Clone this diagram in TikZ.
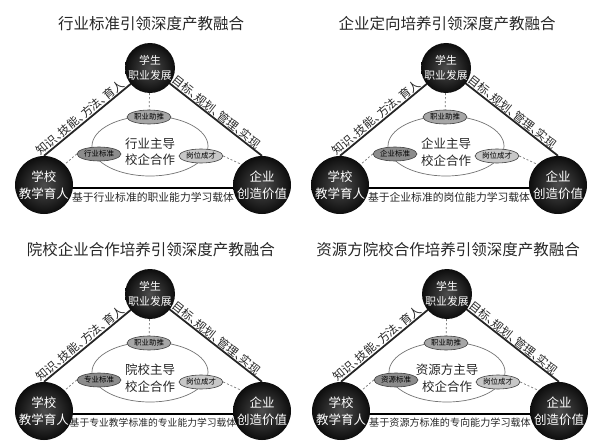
\documentclass[tikz,border=0pt]{standalone}
\usepackage{fontspec}
\setmainfont{Noto Sans CJK SC}
\usetikzlibrary{shapes.geometric,backgrounds}
\newcommand\dunh{\makebox[0.5em][l]{、}}
\tikzset{
 titlef/.style={font=\fontsize{15.5}{18}\selectfont, text=black!85, inner sep=0pt},
 topc/.style={circle, inner color=black!70, outer color=black!95, text=white, minimum size=50pt, inner sep=0pt, align=center, font=\fontsize{10.8}{15}\selectfont},
 botc/.style={circle, inner color=black!70, outer color=black!95, text=white, minimum size=58pt, inner sep=0pt, align=center, font=\fontsize{12.5}{17}\selectfont},
 bigell/.style={ellipse, draw=black!55, line width=0.7pt, minimum width=116pt, minimum height=60pt, inner sep=0pt},
 centert/.style={align=center, font=\fontsize{12.5}{16.5}\selectfont, inner sep=0pt, text=black!85},
 smell/.style={ellipse, draw=black!75, line width=0.6pt, minimum width=44pt, minimum height=14pt, inner sep=0pt, font=\fontsize{7.5}{9}\selectfont},
 edgeline/.style={draw=black!85, line width=1.8pt},
 bline/.style={draw=black, line width=1.8pt},
 dashl/.style={draw=black!55, line width=0.7pt, dash pattern=on 2pt off 2pt},
 elabel/.style={sloped, above, inner sep=1pt, font=\fontsize{11.5}{13}\selectfont, text=black!85},
}
% #1 prefix, #2 x shift, #3 y shift, #4 title, #5 centre first line, #6 left small ellipse, #7 bottom text, #8 bottom font size
\newcommand\drawpanel[8]{%
\begin{scope}[shift={(#2,#3)}]
 \node[titlef] (#1title) at (151,24) {#4};
 \node[topc] (#1T) at (150,68) {学生\\职业发展};
 \node[botc] (#1L) at (44,185) {学校\\教学育人};
 \node[botc] (#1R) at (262,185) {企业\\创造价值};
 \node[bigell] (#1E) at (150,146) {};
 \node[centert] (#1C) at (150,152) {#5\\校企合作};
 \node[smell, fill=black!35] (#1A) at (149,117) {职业助推};
 \node[smell, fill=black!45] (#1B) at (99,154) {#6};
 \node[smell, fill=black!22] (#1D) at (201,156) {岗位成才};
 \begin{scope}[on background layer]
  \draw[edgeline] (#1L.north) -- (#1T.center);
  \draw[edgeline] (#1T.center) -- (#1R.north);
  \draw[bline] ([yshift=-3pt]#1L.center) -- ([yshift=-3pt]#1R.center);
 \end{scope}
 \path (#1L.north) -- node[elabel, pos=0.38] (#1lt) {知识\dunh 技能\dunh 方法\dunh 育人} (#1T.center);
 \path (#1T.center) -- node[elabel, pos=0.56] (#1rt) {目标\dunh 规划\dunh 管理\dunh 实现} (#1R.north);
 \path ([yshift=-3pt]#1L.center) -- node[midway, below=3pt, inner sep=1pt, font=\fontsize{#8}{#8}\selectfont, text=black!85] (#1bt) {#7} ([yshift=-3pt]#1R.center);
 \draw[dashl] (#1T) -- (#1A);
 \draw[dashl] (#1B.west) -- (#1L.45);
 \draw[dashl] (#1D.east) -- (#1R.135);
\end{scope}}

\begin{document}
\begin{tikzpicture}[x=1pt,y=-1pt]
\useasboundingbox (0,0) rectangle (592,441);
\drawpanel{p}{0}{0}{行业标准引领深度产教融合}{行业主导}{行业标准}{基于行业标准的职业能力学习载体}{10.8}
\drawpanel{q}{296}{0}{企业定向培养引领深度产教融合}{企业主导}{企业标准}{基于企业标准的岗位能力学习载体}{10.8}
\drawpanel{r}{0}{226}{院校企业合作培养引领深度产教融合}{院校主导}{专业标准}{基于专业教学标准的专业能力学习载体}{9.8}
\drawpanel{s}{297}{226}{资源方院校合作培养引领深度产教融合}{资源方主导}{资源标准}{基于资源方标准的专向能力学习载体}{10.1}
\end{tikzpicture}
\end{document}
